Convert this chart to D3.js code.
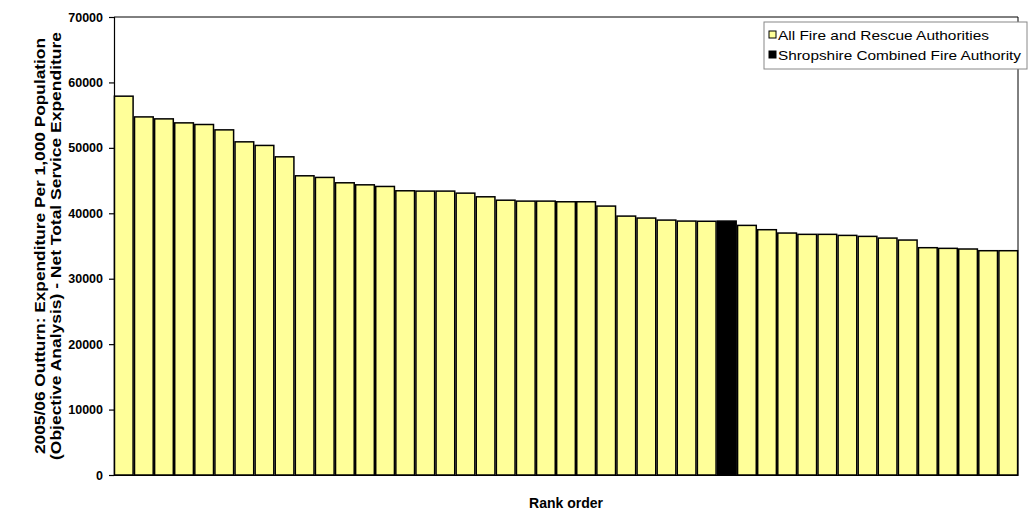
<!DOCTYPE html>
<html>
<head>
<meta charset="utf-8">
<script src="https://cdn.jsdelivr.net/npm/d3@7"></script>
<style>
  html, body { margin: 0; padding: 0; background: #fff; }
  svg { display: block; font-family: "Liberation Sans", Arial, sans-serif; }
</style>
</head>
<body>
<svg id="chart" width="1030" height="515"></svg>
<script>
// Data (rank order)
const ranks = d3.range(1, 46);
const values = [
  57900, 54730, 54430, 53820, 53570, 52750, 50920, 50370, 48630, 45730,
  45480, 44660, 44350, 44100, 43440, 43390, 43390, 43080, 42520, 42000,
  41860, 41860, 41760, 41760, 41100, 39570, 39270, 38960, 38810, 38780,
  38810, 38150, 37490, 36980, 36780, 36780, 36620, 36470, 36210, 35910,
  34740, 34640, 34540, 34280, 34280
];
const highlightRank = 31;
const yTicks = [0, 10000, 20000, 30000, 40000, 50000, 60000, 70000];
const seriesNames = ["All Fire and Rescue Authorities", "Shropshire Combined Fire Authority"];
const seriesColors = ["#FFFF99", "#000000"];
const yTitleLines = ["2005/06 Outturn: Expenditure Per 1,000 Population", "(Objective Analysis) - Net Total Service Expenditure"];
const xTitle = "Rank order";

const svg = d3.select("#chart");
const plot = { left: 114, right: 1018, top: 17, bottom: 475 };

const x = d3.scaleBand().domain(ranks).range([plot.left, plot.right]).paddingInner(0.07).paddingOuter(0.02);
const y = d3.scaleLinear().domain([0, 70000]).range([plot.bottom, plot.top]);

// plot border (top and right)
svg.append("path")
  .attr("d", `M${plot.left},${plot.top}H${plot.right}V${plot.bottom}`)
  .attr("fill", "none").attr("stroke", "#000").attr("stroke-width", 1);

// bars
svg.append("g").selectAll("rect").data(ranks).join("rect")
  .attr("x", d => x(d))
  .attr("y", (d, i) => y(values[i]))
  .attr("width", x.bandwidth())
  .attr("height", (d, i) => y(0) - y(values[i]))
  .attr("fill", d => d === highlightRank ? seriesColors[1] : seriesColors[0])
  .attr("stroke", "#000")
  .attr("stroke-width", 1.5);

// y axis
const yAxis = svg.append("g")
  .attr("transform", `translate(${plot.left},0)`)
  .call(d3.axisLeft(y).tickValues(yTicks).tickFormat(d3.format("d")).tickSize(5).tickPadding(6));
yAxis.selectAll("path, line").attr("stroke", "#000").attr("stroke-width", 1.2);
yAxis.selectAll("text").attr("font-size", 12.5).attr("font-weight", "bold")
  .attr("font-family", "Liberation Sans, Arial, sans-serif").attr("fill", "#000");

// x axis baseline
svg.append("g")
  .attr("transform", `translate(0,${plot.bottom})`)
  .call(d3.axisBottom(x).tickValues([]).tickSizeOuter(0))
  .selectAll("path").attr("stroke", "#000").attr("stroke-width", 1.2);

// y title
const yTitleLen = [416, 428];
const yt = svg.append("text")
  .attr("transform", `translate(45,${(plot.top + plot.bottom) / 2}) rotate(-90)`)
  .attr("text-anchor", "middle")
  .attr("font-size", 15).attr("font-weight", "bold");
yTitleLines.forEach((l, i) => {
  yt.append("tspan").attr("x", 0).attr("dy", i === 0 ? 0 : 16)
    .attr("textLength", yTitleLen[i]).attr("lengthAdjust", "spacingAndGlyphs")
    .text(l);
});

// x title
svg.append("text")
  .attr("x", 566)
  .attr("y", 508)
  .attr("text-anchor", "middle")
  .attr("font-size", 14).attr("font-weight", "bold")
  .text(xTitle);

// legend
const lg = svg.append("g").attr("transform", "translate(764,22)");
lg.append("rect").attr("width", 263).attr("height", 47)
  .attr("fill", "#fff").attr("stroke", "#888").attr("stroke-width", 1);
const legendTextLen = [211, 243];
seriesNames.forEach((name, i) => {
  const row = lg.append("g").attr("transform", `translate(0,${9 + i * 20})`);
  row.append("rect").attr("x", 5).attr("y", 0).attr("width", 7).attr("height", 7)
    .attr("fill", seriesColors[i]).attr("stroke", "#000").attr("stroke-width", 1);
  row.append("text").attr("x", 14).attr("y", 8.5)
    .attr("font-size", 13.5)
    .attr("textLength", legendTextLen[i]).attr("lengthAdjust", "spacingAndGlyphs")
    .text(name);
});
</script>
</body>
</html>
